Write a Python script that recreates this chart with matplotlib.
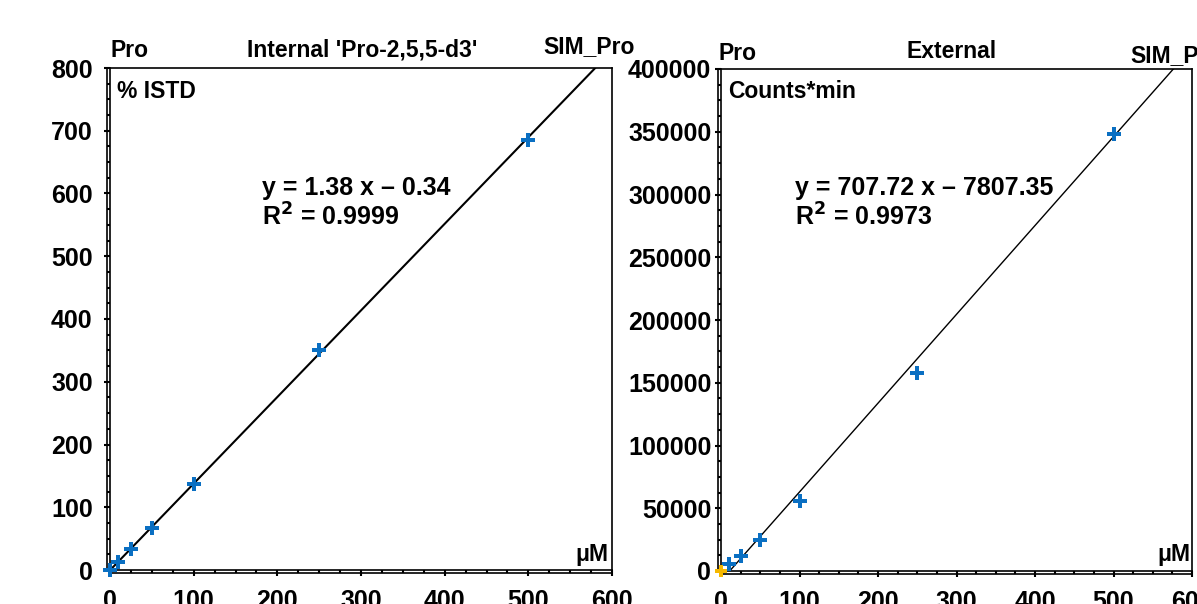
import matplotlib
matplotlib.use("Agg")
import matplotlib.pyplot as plt
import matplotlib.transforms as mtransforms
from matplotlib.ticker import MultipleLocator
import numpy as np

plt.rcParams['font.family'] = ['Liberation Sans', 'DejaVu Sans']
plt.rcParams['font.weight'] = 'bold'

# ---- data ----
conc_int = [0, 10, 25, 50, 100, 250, 500]
ratio_int = [0.5, 13, 33, 67, 137, 350, 686]
slope_int, icpt_int = 1.38, -0.34

conc_ext = [10, 25, 50, 100, 250, 500]
area_ext = [5600, 11900, 24500, 55700, 158000, 348000]
blank_ext_x = [0]
blank_ext_y = [0]
slope_ext, icpt_ext = 707.72, -7807.35

W, H = 1197, 604
fig = plt.figure(figsize=(W / 100, H / 100), dpi=100)


def px_axes(l, r, b, t):
    return fig.add_axes([l / W, 1 - b / H, (r - l) / W, (b - t) / H])


def style(ax, ymax, ymaj, ymin, ypad):
    ax.set_xlim(0, 600)
    ax.set_ylim(0, ymax)
    ax.xaxis.set_major_locator(MultipleLocator(100))
    ax.xaxis.set_minor_locator(MultipleLocator(25))
    ax.yaxis.set_major_locator(MultipleLocator(ymaj))
    ax.yaxis.set_minor_locator(MultipleLocator(ymin))
    ax.tick_params(which='major', direction='out', length=4, width=1.5,
                   labelsize=18)
    ax.tick_params(which='minor', direction='out', length=2.5, width=1.5)
    ax.tick_params(axis='x', which='major', pad=10)
    ax.tick_params(axis='y', which='major', pad=ypad)
    for lbl in ax.get_xticklabels() + ax.get_yticklabels():
        lbl.set_fontweight('bold')
    for s in ax.spines.values():
        s.set_linewidth(1.2)
    # double line on left and bottom
    offx = mtransforms.ScaledTranslation(-3 / 100, 0, fig.dpi_scale_trans)
    offy = mtransforms.ScaledTranslation(0, -3 / 100, fig.dpi_scale_trans)
    ax.plot([0, 0], [0, 1], transform=ax.transAxes + offx, color='black',
            lw=1.2, clip_on=False)
    ax.plot([0, 1], [0, 0], transform=ax.transAxes + offy, color='black',
            lw=1.2, clip_on=False)


# ---- left: internal standard ----
ax1 = px_axes(110, 612, 570, 68)
style(ax1, 800, 100, 25, 8.5)
xx = np.array([0, 600])
ax1.plot(xx, slope_int * xx + icpt_int, color='black', lw=1.5, zorder=2)
ax1.plot(conc_int, ratio_int, linestyle='none', marker='P', markersize=9.5,
         color='#0a6fc2', markeredgewidth=0, zorder=3, clip_on=False)

# ---- right: external ----
ax2 = px_axes(721, 1192, 571, 69)
style(ax2, 400000, 50000, 12500, 3)
ax2.plot(xx, slope_ext * xx + icpt_ext, color='black', lw=1.0, zorder=2)
ax2.plot(conc_ext, area_ext, linestyle='none', marker='P', markersize=9.5,
         color='#0a6fc2', markeredgewidth=0, zorder=3, clip_on=False)
ax2.plot(blank_ext_x, blank_ext_y, linestyle='none', marker='P', markersize=8,
         color='#f5b800', markeredgewidth=0, zorder=3, clip_on=False)


def ftext(x, y, s, size, ha='left'):
    fig.text(x / W, 1 - y / H, s, fontsize=size, fontweight='bold',
             ha=ha, va='baseline')


# headers
ftext(110, 57, "Pro", 16.5)
ftext(247, 57, "Internal 'Pro-2,5,5-d3'", 16.5)
ftext(543, 53, "SIM_Pro", 16.5)
ftext(718, 60, "Pro", 16.5)
ftext(907, 58, "External", 16.5)
ftext(1130, 62, "SIM_Pro", 16.5)

# y units
ftext(117, 98, "% ISTD", 16.5)
ftext(728, 98, "Counts*min", 16.5)

# equations
ftext(262, 195, "y = 1.38 x \u2013 0.34", 18)
ftext(262, 226, "R$^{\\mathbf{2}}$ = 0.9999", 18)
ftext(795, 195, "y = 707.72 x \u2013 7807.35", 18)
ftext(795, 226, "R$^{\\mathbf{2}}$ = 0.9973", 18)

# x units
ftext(608, 561, "\u03bcM", 16.5, ha='right')
ftext(1190, 561, "\u03bcM", 16.5, ha='right')

fig.savefig("out.png", dpi=100)
